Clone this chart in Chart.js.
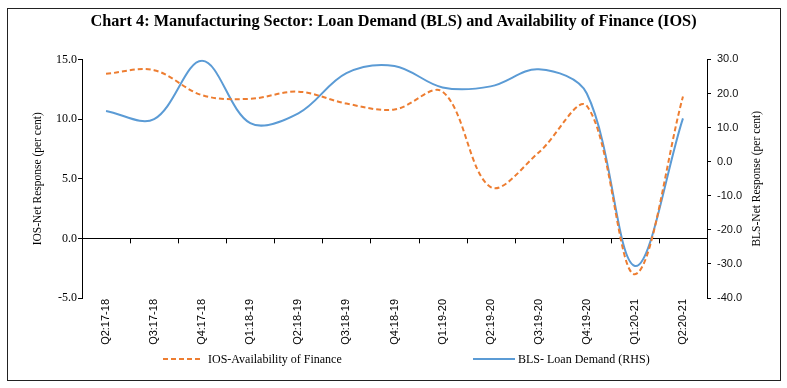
<!DOCTYPE html>
<html>
<head>
<meta charset="utf-8">
<script src="https://cdn.jsdelivr.net/npm/chart.js@4"></script>
<style>
  html, body { margin: 0; padding: 0; background: #fff; }
  #wrap { position: relative; width: 787px; height: 388px; background: #fff; }
  #frame { position: absolute; left: 7px; top: 8px; width: 772px; height: 371px; border: 1.5px solid #222; box-sizing: content-box; pointer-events: none; }
  canvas { position: absolute; left: 0; top: 0; }
  .leg { position: absolute; top: 351px; height: 16px; display: flex; align-items: center; font-family: "Liberation Serif", serif; font-size: 12px; color: #000; white-space: nowrap; }
  .leg svg { margin-right: 5px; }
</style>
</head>
<body>
<div id="wrap">
  <canvas id="c" width="787" height="388"></canvas>
  <div id="frame"></div>
  <div class="leg" style="left:163px"><svg width="40" height="4"><line x1="0" y1="2" x2="40" y2="2" stroke="#ED7D31" stroke-width="2" stroke-dasharray="5,3"/></svg><span id="l1"></span></div>
  <div class="leg" style="left:473px"><svg width="42" height="4" style="margin-right:3px"><line x1="0" y1="2" x2="42" y2="2" stroke="#5B9BD5" stroke-width="2"/></svg><span id="l2"></span></div>
</div>
<script>
const categories = ['Q2:17-18','Q3:17-18','Q4:17-18','Q1:18-19','Q2:18-19','Q3:18-19','Q4:18-19','Q1:19-20','Q2:19-20','Q3:19-20','Q4:19-20','Q1:20-21','Q2:20-21'];
const iosValues = [13.8, 14.1, 12.0, 11.7, 12.3, 11.3, 10.8, 12.3, 4.3, 7.2, 11.1, -3.0, 11.9];
const blsValues = [14.9, 12.5, 29.6, 11.3, 14.2, 26.0, 28.1, 21.8, 22.1, 27.1, 20.0, -30.6, 12.7];
const iosLabel = 'IOS-Availability of Finance';
const blsLabel = 'BLS- Loan Demand (RHS)';
const chartTitle = 'Chart 4: Manufacturing Sector: Loan Demand (BLS) and Availability of Finance (IOS)';
const leftTitle = 'IOS-Net Response (per cent)';
const rightTitle = 'BLS-Net Response (per cent)';

document.getElementById('l1').textContent = iosLabel;
document.getElementById('l2').textContent = blsLabel;

Chart.defaults.color = '#000';
Chart.defaults.font.family = '"Liberation Serif", serif';

const extras = {
  id: 'extras',
  afterDraw(chart) {
    const {ctx, chartArea} = chart;
    const x = chart.scales.x, y = chart.scales.y, y1 = chart.scales.y1;
    const y0 = y.getPixelForValue(0);
    const n = categories.length;
    ctx.save();
    ctx.strokeStyle = '#000';
    ctx.lineWidth = 1;
    for (let i = 0; i <= n; i++) {
      const px = Math.round(x.left + i * x.width / n) + 0.5;
      ctx.beginPath();
      ctx.moveTo(px, y0);
      ctx.lineTo(px, y0 + 5);
      ctx.stroke();
    }
    ctx.translate(y1.left + 50, (chartArea.top + chartArea.bottom) / 2);
    ctx.rotate(-Math.PI / 2);
    ctx.font = '11.5px "Liberation Serif"';
    ctx.textAlign = 'center';
    ctx.textBaseline = 'middle';
    ctx.fillStyle = '#000';
    ctx.fillText(rightTitle, 0, 0);
    ctx.restore();
  }
};

new Chart(document.getElementById('c'), {
  type: 'line',
  data: {
    labels: categories,
    datasets: [
      { label: iosLabel, data: iosValues, yAxisID: 'y', borderColor: '#ED7D31', backgroundColor: '#ED7D31', borderWidth: 2, borderDash: [5, 3], pointRadius: 0, tension: 0.35, fill: false },
      { label: blsLabel, data: blsValues, yAxisID: 'y1', borderColor: '#5B9BD5', backgroundColor: '#5B9BD5', borderWidth: 2, pointRadius: 0, tension: 0.35, fill: false }
    ]
  },
  options: {
    responsive: false,
    animation: false,
    layout: { padding: { left: 0, right: 0, top: 0, bottom: 40 } },
    plugins: {
      legend: { display: false },
      tooltip: { enabled: false },
      title: {
        display: true,
        text: chartTitle,
        font: { family: '"Liberation Serif", serif', size: 16.3, weight: 'bold' },
        color: '#000',
        padding: { top: 12, bottom: 27.9 }
      }
    },
    scales: {
      x: {
        type: 'category',
        position: 'bottom',
        offset: true,
        grid: { display: false, drawTicks: false },
        border: { display: false },
        ticks: { minRotation: 90, maxRotation: 90, autoSkip: false, padding: 1, font: { family: '"Liberation Sans", sans-serif', size: 11 }, color: '#000' },
        afterFit: s => { s.height = 50; }
      },
      y: {
        position: 'left',
        min: -5, max: 15,
        ticks: { stepSize: 5, padding: 1, callback: v => Number(v).toFixed(1), font: { family: '"Liberation Serif", serif', size: 12 }, color: '#000' },
        grid: {
          drawOnChartArea: true,
          color: c => (c.tick && c.tick.value === 0) ? '#000' : 'rgba(0,0,0,0)',
          tickColor: '#000',
          tickLength: 4,
          lineWidth: 1
        },
        border: { display: true, color: '#000', width: 1 },
        title: { display: true, text: leftTitle, font: { family: '"Liberation Serif", serif', size: 11.5 }, color: '#000', padding: { top: 31, bottom: 0 } },
        afterFit: s => { s.width = 82; }
      },
      y1: {
        position: 'right',
        min: -40, max: 30,
        ticks: { stepSize: 10, padding: 6, callback: v => Number(v).toFixed(1), font: { family: '"Liberation Sans", sans-serif', size: 11 }, color: '#111' },
        grid: { drawOnChartArea: false, tickColor: '#000', tickLength: 4, color: '#000' },
        border: { display: true, color: '#000', width: 1 },
        afterFit: s => { s.width = 80; }
      }
    }
  },
  plugins: [extras]
});
</script>
</body>
</html>
